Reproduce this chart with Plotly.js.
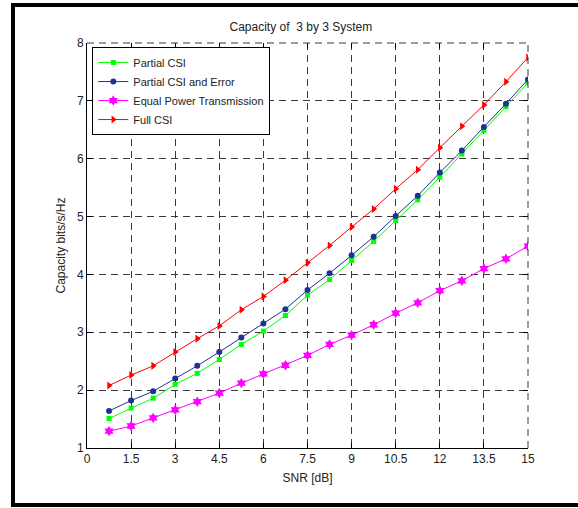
<!DOCTYPE html>
<html>
<head>
<meta charset="utf-8">
<script src="https://cdn.plot.ly/plotly-3.0.1.min.js"></script>
<style>html,body{margin:0;padding:0;background:#fff;}#chart{width:578px;height:508px;}</style>
</head>
<body>
<div id="chart"></div>
<script>
const snr = [0.75, 1.5, 2.25, 3, 3.75, 4.5, 5.25, 6, 6.75, 7.5, 8.25, 9, 9.75, 10.5, 11.25, 12, 12.75, 13.5, 14.25, 15];
const partialCSI = [1.51, 1.69, 1.86, 2.10, 2.29, 2.53, 2.79, 3.02, 3.29, 3.64, 3.91, 4.24, 4.57, 4.93, 5.29, 5.68, 6.08, 6.49, 6.90, 7.31];
const partialCSIError = [1.64, 1.82, 1.98, 2.20, 2.42, 2.66, 2.91, 3.15, 3.40, 3.73, 4.02, 4.33, 4.65, 5.01, 5.36, 5.76, 6.14, 6.55, 6.95, 7.37];
const equalPower = [1.29, 1.38, 1.52, 1.66, 1.80, 1.95, 2.12, 2.28, 2.43, 2.60, 2.79, 2.95, 3.13, 3.33, 3.51, 3.72, 3.89, 4.10, 4.27, 4.49];
const fullCSI = [2.08, 2.26, 2.42, 2.66, 2.89, 3.11, 3.39, 3.62, 3.90, 4.20, 4.50, 4.82, 5.13, 5.48, 5.81, 6.19, 6.56, 6.93, 7.33, 7.75];
const xTicks = [0, 1.5, 3, 4.5, 6, 7.5, 9, 10.5, 12, 13.5, 15];
const xTickText = ['0', '1.5', '3', '4.5', '6', '7.5', '9', '10.5', '12', '13.5', '15'];
const yTicks = [1, 2, 3, 4, 5, 6, 7, 8];

const FONT = 'Liberation Sans, Arial, sans-serif';
const traces = [
  {x: snr, y: partialCSI, name: 'Partial CSI', mode: 'lines+markers',
   line: {color: '#00ff00', width: 1}, marker: {symbol: 'square', size: 5, color: '#00ff00'}},
  {x: snr, y: partialCSIError, name: 'Partial CSI and Error', mode: 'lines+markers',
   line: {color: '#1c3390', width: 1}, marker: {symbol: 'circle', size: 6, color: '#1c3390'}},
  {x: snr, y: equalPower, name: 'Equal Power Transmission', mode: 'lines+markers',
   line: {color: '#ff00ff', width: 1}, marker: {symbol: 'hexagram', size: 8, color: '#ff00ff'}},
  {x: snr, y: fullCSI, name: 'Full CSI', mode: 'lines+markers',
   line: {color: '#ff0000', width: 1}, marker: {symbol: 'triangle-right', size: 7, color: '#ff0000'}}
];

const gridStyle = {showgrid: true, gridcolor: '#3a3a3a', griddash: '7px,5px', gridwidth: 1};
const layout = {
  width: 578, height: 508,
  margin: {l: 87, r: 50, t: 43, b: 60, pad: 0},
  paper_bgcolor: '#fff', plot_bgcolor: '#fff',
  font: {family: FONT, size: 12, color: '#222'},
  showlegend: true,
  title: {text: 'Capacity of  3 by 3 System', font: {family: FONT, size: 12, color: '#222'},
          x: 0.485, xref: 'paper', xanchor: 'center', y: 0.947, yanchor: 'middle'},
  xaxis: Object.assign({
    range: [0, 15], tickvals: xTicks, ticktext: xTickText, ticks: 'inside', ticklen: 5,
    tickcolor: '#000', showline: true, linecolor: '#000', linewidth: 1, zeroline: false,
    tickfont: {family: FONT, size: 12, color: '#222'},
    title: {text: 'SNR [dB]', font: {family: FONT, size: 12, color: '#222'}, standoff: 8}
  }, gridStyle),
  yaxis: Object.assign({
    range: [1, 8], tickvals: yTicks, ticks: 'inside', ticklen: 5,
    tickcolor: '#000', showline: true, linecolor: '#000', linewidth: 1, zeroline: false,
    tickfont: {family: FONT, size: 12, color: '#222'},
    title: {text: 'Capacity bits/s/Hz', font: {family: FONT, size: 12, color: '#222'}, standoff: 8}
  }, gridStyle),
  xaxis2: {overlaying: 'x', side: 'top', range: [0, 15], tickvals: xTicks, ticks: 'inside', ticklen: 5,
    tickcolor: '#000', showticklabels: false, showgrid: false, showline: false, zeroline: false},
  yaxis2: {overlaying: 'y', side: 'right', range: [1, 8], tickvals: yTicks, ticks: 'inside', ticklen: 5,
    tickcolor: '#000', showticklabels: false, showgrid: false, showline: false, zeroline: false},
  legend: {x: 0.012, y: 0.99, xanchor: 'left', yanchor: 'top', bgcolor: '#fff',
    bordercolor: '#000', borderwidth: 1, font: {family: FONT, size: 11, color: '#222'},
    tracegroupgap: 0, itemwidth: 30},
  shapes: [
    {type: 'line', xref: 'paper', yref: 'paper', x0: 0, x1: 1, y0: 1, y1: 1,
     line: {color: '#3a3a3a', width: 1, dash: '7px,5px'}},
    {type: 'line', xref: 'paper', yref: 'paper', x0: 1, x1: 1, y0: 0, y1: 1,
     line: {color: '#3a3a3a', width: 1, dash: '7px,5px'}},
    {type: 'rect', xref: 'paper', yref: 'paper', x0: -0.1678, x1: 1.2, y0: -0.1407, y1: 1.0938,
     line: {color: '#000', width: 4}, fillcolor: 'rgba(0,0,0,0)'}
  ]
};
// invisible helper trace so the mirrored tick axes are drawn
traces.push({x: [0], y: [1], xaxis: 'x2', yaxis: 'y2', mode: 'markers', marker: {opacity: 0},
  showlegend: false, hoverinfo: 'skip'});
Plotly.newPlot('chart', traces, layout, {displayModeBar: false, staticPlot: true});
</script>
</body>
</html>
